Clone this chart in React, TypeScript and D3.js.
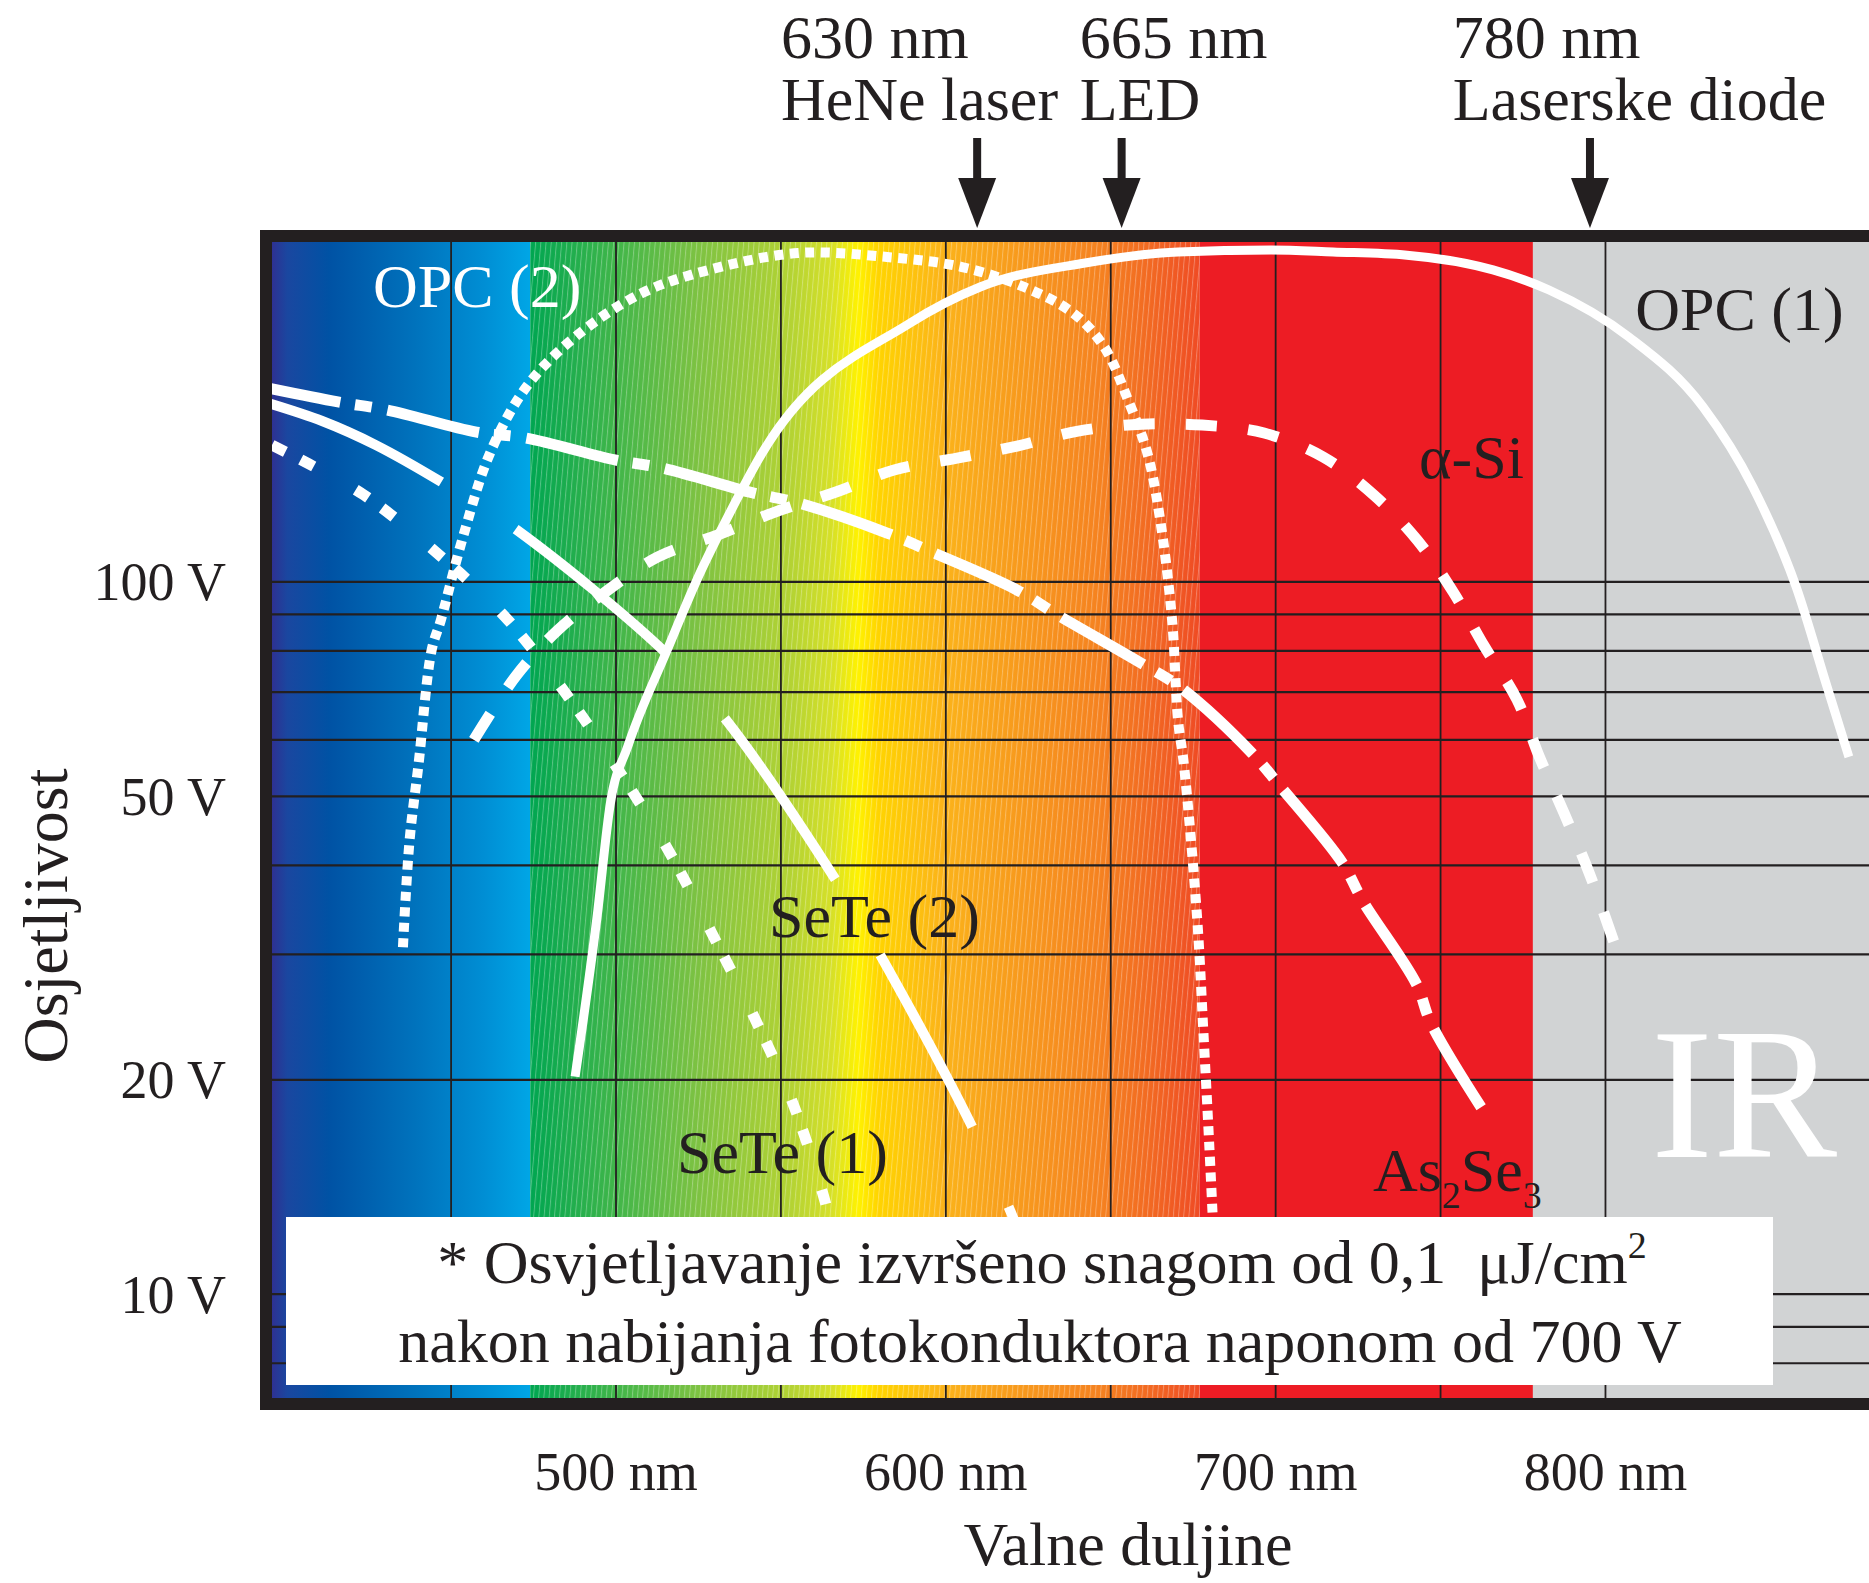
import { useEffect, useRef } from 'react';
import * as d3 from 'd3';

const width = 1869;
const height = 1583;
const plot = { left: 272, top: 242, right: 1869, bottom: 1398 };
const font = "'Liberation Serif', 'Times New Roman', serif";
const ink = '#231f20';

// wavelength (nm) on x, sensitivity (V, log) on y
const xDomain = [395.7, 879.9];
const yDomain = [7.15, 300];

const gridNm = [450, 500, 550, 600, 650, 700, 750, 800];
const tickNm = [500, 600, 700, 800];
const gridVolts = [8, 9, 10, 20, 30, 40, 50, 60, 70, 80, 90, 100];
const tickVolts = [100, 50, 20, 10];

// colour bands: blue | spectrum | red | IR (grey)
const bandEdgesNm = [474, 677, 778];

// light sources marked above the chart (arrow drawn where the original puts it)
const sourceWavelength = ['630 nm', '665 nm', '780 nm'];
const sourceName = ['HeNe laser', 'LED', 'Laserske diode'];
const sourceArrowNm = [609.5, 653.3, 795.3];
const sourceTextNm = [550, 640.6, 753.7];

// OPC (1) - solid
const opc1Nm = [487.6, 494.2, 498.3, 503.6, 515.5, 524.5, 534.9, 544.3, 589.2, 610.4, 642.2, 670.4, 698.6, 717.4, 739.8, 765.9, 782.9, 807.1, 829.6, 844.7, 857.8, 867.2, 873.8];
const opc1V = [20.2, 33.7, 48.9, 58.8, 80.2, 100.6, 126, 151.6, 230.9, 259.4, 280.3, 290.5, 292.4, 290.5, 287.5, 274.1, 256.9, 220.7, 176, 135.9, 98.4, 71.2, 56.8];

// OPC (2) - dotted
const opc2Nm = [435.4, 437.4, 440.1, 444.1, 446.9, 453.6, 461.8, 472.8, 487.6, 507.9, 528.2, 555.2, 582.2, 604.9, 623.7, 638.6, 648, 655.6, 661.1, 665, 668.6, 670.4, 672.2, 676.2, 678.1, 679.9, 681.4];
const opc2V = [30.7, 43.3, 55.3, 80.2, 88.4, 115.6, 151.6, 187.7, 220.7, 254.4, 274.1, 289.5, 285.8, 276.7, 259.4, 238.4, 213.7, 178.3, 151.6, 122.1, 88.4, 64, 55.3, 33.7, 23.3, 16.1, 11.5];

// SeTe (2) - long dashes
const seTe2Nm = [393.4, 410.9, 427.2, 447.5, 470, 515.2, 533.6, 566.7, 580, 608.2, 618.9, 625.5];
const seTe2V = [178.9, 168.2, 155.6, 137.7, 118.2, 79.4, 63.8, 38.1, 30.0, 17.1, 13.3, 11.2];

// SeTe (1) - paired dots
const seTe1Nm = [395.7, 406.9, 423.6, 445.4, 466.2, 484.5, 500.3, 515.6, 529.1, 541.5, 553.3, 562.6, 566.4];
const seTe1V = [155.6, 146.4, 132.4, 110.1, 89.5, 70.0, 54.8, 42.2, 32.1, 24.7, 18.7, 13.9, 11.9];

// As2Se3 - dash dot
const as2se3Nm = [388.4, 415.7, 430.6, 457.7, 472.7, 499.7, 513.9, 541.5, 555.2, 582.2, 596.4, 621.6, 634, 659.2, 671.3, 692.8, 701.3, 720.1, 726.5, 742.6, 747.1, 762.3];
const as2se3V = [189.6, 178.9, 174.3, 162.3, 159.2, 148.3, 144.5, 133.3, 129.1, 117.1, 109.8, 97.4, 89.8, 76.9, 71.0, 57.5, 51.7, 40.4, 35.6, 27.3, 24.0, 18.3];

// α-Si - dashed
const aSiNm = [456.9, 469.7, 482.4, 497.6, 512.7, 530.9, 548.2, 566.7, 584.3, 603.4, 621.6, 640.1, 659.5, 677.7, 696.5, 714.4, 729.8, 742.9, 753.8, 763.2, 773.2, 779.9, 787.4, 795, 802.9];
const aSiV = [60.0, 73.8, 85.6, 97.4, 108.4, 116.4, 125.3, 133.7, 143.6, 149.2, 155.1, 162.8, 166.5, 166, 161.8, 149.7, 132.4, 114.5, 96.8, 81.3, 68.3, 56.9, 47.4, 39.1, 30.9];

// curve labels, placed in data units
const labelText = ['OPC (2)', 'OPC (1)', 'α-Si', 'SeTe (2)', 'SeTe (1)'];
const labelNm = [426.3, 809.0, 743.5, 546.4, 518.5];
const labelV = [243.1, 225.7, 139.9, 31.7, 14.8];
const labelWhite = [true, false, false, false, false];

const App = () => {
    const svgRef = useRef<SVGSVGElement>(null);

    useEffect(() => {
        document.body.style.margin = '0';
        const svg = d3.select(svgRef.current);
        svg.selectAll('*').remove();

        const x = d3.scaleLinear().domain(xDomain).range([plot.left, plot.right]);
        const y = d3.scaleLog().domain(yDomain).range([plot.bottom, plot.top]);

        const defs = svg.append('defs');

        const blue = defs.append('linearGradient').attr('id', 'blueBand');
        [
            [0, '#2e3192'],
            [0.06, '#1a47a0'],
            [0.22, '#0052a4'],
            [0.55, '#0072bc'],
            [0.82, '#008ed4'],
            [1, '#00a6e6'],
        ].forEach(([o, c]) => blue.append('stop').attr('offset', o).attr('stop-color', c));

        const spectrum = defs.append('linearGradient').attr('id', 'spectrumBand');
        [
            [0, '#00a651'],
            [0.12, '#3db54a'],
            [0.25, '#7dc242'],
            [0.39, '#b4d333'],
            [0.45, '#d6e028'],
            [0.49, '#fff200'],
            [0.52, '#ffd400'],
            [0.62, '#fbb21a'],
            [0.7, '#f8a01c'],
            [0.85, '#f58220'],
            [0.92, '#f26b22'],
            [1, '#ef4b24'],
        ].forEach(([o, c]) => spectrum.append('stop').attr('offset', o).attr('stop-color', c));

        const hatch = defs
            .append('pattern')
            .attr('id', 'hatch')
            .attr('patternUnits', 'userSpaceOnUse')
            .attr('width', 5.2)
            .attr('height', 50)
            .attr('patternTransform', 'skewX(-5)');
        hatch.append('rect').attr('width', 1).attr('height', 50).attr('fill', '#fff').attr('opacity', 0.3);

        defs.append('clipPath')
            .attr('id', 'plotClip')
            .append('rect')
            .attr('x', plot.left)
            .attr('y', plot.top)
            .attr('width', plot.right - plot.left)
            .attr('height', plot.bottom - plot.top);

        // colour bands
        const edges = [xDomain[0], ...bandEdgesNm, xDomain[1]];
        const fills = ['url(#blueBand)', 'url(#spectrumBand)', '#ed1c24', '#d1d3d4'];
        fills.forEach((f, i) => {
            svg.append('rect')
                .attr('x', x(edges[i]))
                .attr('y', plot.top)
                .attr('width', x(edges[i + 1]) - x(edges[i]))
                .attr('height', plot.bottom - plot.top)
                .attr('fill', f);
        });
        svg.append('rect')
            .attr('x', x(edges[1]))
            .attr('y', plot.top)
            .attr('width', x(edges[2]) - x(edges[1]))
            .attr('height', plot.bottom - plot.top)
            .attr('fill', 'url(#hatch)');

        // grid
        svg.append('g')
            .selectAll('line')
            .data(gridNm)
            .join('line')
            .attr('x1', d => x(d))
            .attr('x2', d => x(d))
            .attr('y1', plot.top)
            .attr('y2', plot.bottom)
            .attr('stroke', ink)
            .attr('stroke-width', 1.8);
        svg.append('g')
            .selectAll('line')
            .data(gridVolts)
            .join('line')
            .attr('x1', plot.left)
            .attr('x2', plot.right)
            .attr('y1', d => y(d))
            .attr('y2', d => y(d))
            .attr('stroke', ink)
            .attr('stroke-width', 2.2);

        // curves
        const smooth = d3
            .line<[number, number]>()
            .x(d => x(d[0]))
            .y(d => y(d[1]))
            .curve(d3.curveCatmullRom.alpha(0.5));
        const monotone = d3
            .line<[number, number]>()
            .x(d => x(d[0]))
            .y(d => y(d[1]))
            .curve(d3.curveMonotoneX);

        const curves = [
            { nm: opc1Nm, v: opc1V, dash: null, w: 9, gen: monotone },
            { nm: opc2Nm, v: opc2V, dash: '9 6.5', w: 10, gen: smooth },
            { nm: seTe2Nm, v: seTe2V, dash: '195 88', w: 10, gen: smooth },
            { nm: seTe1Nm, v: seTe1V, dash: '15 17 15 48', w: 11, gen: smooth },
            { nm: as2se3Nm, v: as2se3V, dash: '94 15 17 16', w: 11, gen: smooth },
            { nm: aSiNm, v: aSiV, dash: '31 31.4', w: 11, gen: smooth },
        ];
        const curveG = svg.append('g').attr('clip-path', 'url(#plotClip)');
        curves.forEach(c => {
            curveG
                .append('path')
                .attr('d', c.gen(d3.zip(c.nm, c.v) as [number, number][]))
                .attr('fill', 'none')
                .attr('stroke', '#fff')
                .attr('stroke-width', c.w)
                .attr('stroke-dasharray', c.dash)
                .attr('stroke-linecap', 'butt');
        });

        // curve labels
        labelText.forEach((t, i) => {
            svg.append('text')
                .attr('x', x(labelNm[i]))
                .attr('y', y(labelV[i]))
                .attr('font-family', font)
                .attr('font-size', 62)
                .attr('fill', labelWhite[i] ? '#fff' : ink)
                .text(t);
        });
        const as = svg
            .append('text')
            .attr('x', x(729.5))
            .attr('y', y(13.95))
            .attr('font-family', font)
            .attr('font-size', 62)
            .attr('fill', ink);
        as.append('tspan').text('As');
        as.append('tspan').attr('font-size', 38).attr('dy', 17).text('2');
        as.append('tspan').attr('dy', -17).text('Se');
        as.append('tspan').attr('font-size', 38).attr('dy', 17).text('3');
        svg.append('text')
            .attr('x', x(813.8))
            .attr('y', y(15.6))
            .attr('font-family', font)
            .attr('font-size', 186)
            .attr('fill', '#fff')
            .text('IR');

        // note box
        svg.append('rect')
            .attr('x', 286)
            .attr('y', 1217)
            .attr('width', 1487)
            .attr('height', 168)
            .attr('fill', '#fff');
        const note1 = svg
            .append('text')
            .attr('x', 1042)
            .attr('y', 1283)
            .attr('text-anchor', 'middle')
            .attr('font-family', font)
            .attr('font-size', 62)
            .attr('fill', ink)
            .style('white-space', 'pre');
        note1.append('tspan').text('* Osvjetljavanje izvršeno snagom od 0,1  μJ/cm');
        note1.append('tspan').attr('font-size', 38).attr('dy', -25).text('2');
        svg.append('text')
            .attr('x', 1040)
            .attr('y', 1362)
            .attr('text-anchor', 'middle')
            .attr('font-family', font)
            .attr('font-size', 62)
            .attr('fill', ink)
            .text('nakon nabijanja fotokonduktora naponom od 700 V');

        // frame
        svg.append('rect')
            .attr('x', plot.left - 6)
            .attr('y', plot.top - 6)
            .attr('width', plot.right - plot.left + 60)
            .attr('height', plot.bottom - plot.top + 12)
            .attr('fill', 'none')
            .attr('stroke', ink)
            .attr('stroke-width', 12);

        // axes labels
        svg.append('g')
            .selectAll('text')
            .data(tickVolts)
            .join('text')
            .attr('x', 226)
            .attr('y', d => y(d))
            .attr('dy', '0.34em')
            .attr('text-anchor', 'end')
            .attr('font-family', font)
            .attr('font-size', 54)
            .attr('fill', ink)
            .text(d => `${d} V`);
        svg.append('g')
            .selectAll('text')
            .data(tickNm)
            .join('text')
            .attr('x', d => x(d))
            .attr('y', 1490)
            .attr('text-anchor', 'middle')
            .attr('font-family', font)
            .attr('font-size', 54)
            .attr('fill', ink)
            .text(d => `${d} nm`);
        svg.append('text')
            .attr('x', 1128)
            .attr('y', 1565)
            .attr('text-anchor', 'middle')
            .attr('font-family', font)
            .attr('font-size', 62)
            .attr('fill', ink)
            .text('Valne duljine');
        svg.append('text')
            .attr('transform', 'translate(67,916) rotate(-90)')
            .attr('text-anchor', 'middle')
            .attr('font-family', font)
            .attr('font-size', 64)
            .attr('fill', ink)
            .text('Osjetljivost');

        // light source markers
        sourceArrowNm.forEach((nm, i) => {
            const cx = x(nm);
            svg.append('rect')
                .attr('x', cx - 4)
                .attr('y', 138)
                .attr('width', 8)
                .attr('height', 44)
                .attr('fill', ink);
            svg.append('path')
                .attr('d', `M${cx - 19},178L${cx + 19},178L${cx},228Z`)
                .attr('fill', ink);
            const t = svg
                .append('text')
                .attr('x', x(sourceTextNm[i]))
                .attr('font-family', font)
                .attr('font-size', 62)
                .attr('fill', ink);
            t.append('tspan').attr('x', x(sourceTextNm[i])).attr('y', 58).text(sourceWavelength[i]);
            t.append('tspan').attr('x', x(sourceTextNm[i])).attr('y', 120).text(sourceName[i]);
        });
    }, []);

    return <svg ref={svgRef} width={width} height={height} style={{ display: 'block', background: '#fff' }} />;
};

export default App;
